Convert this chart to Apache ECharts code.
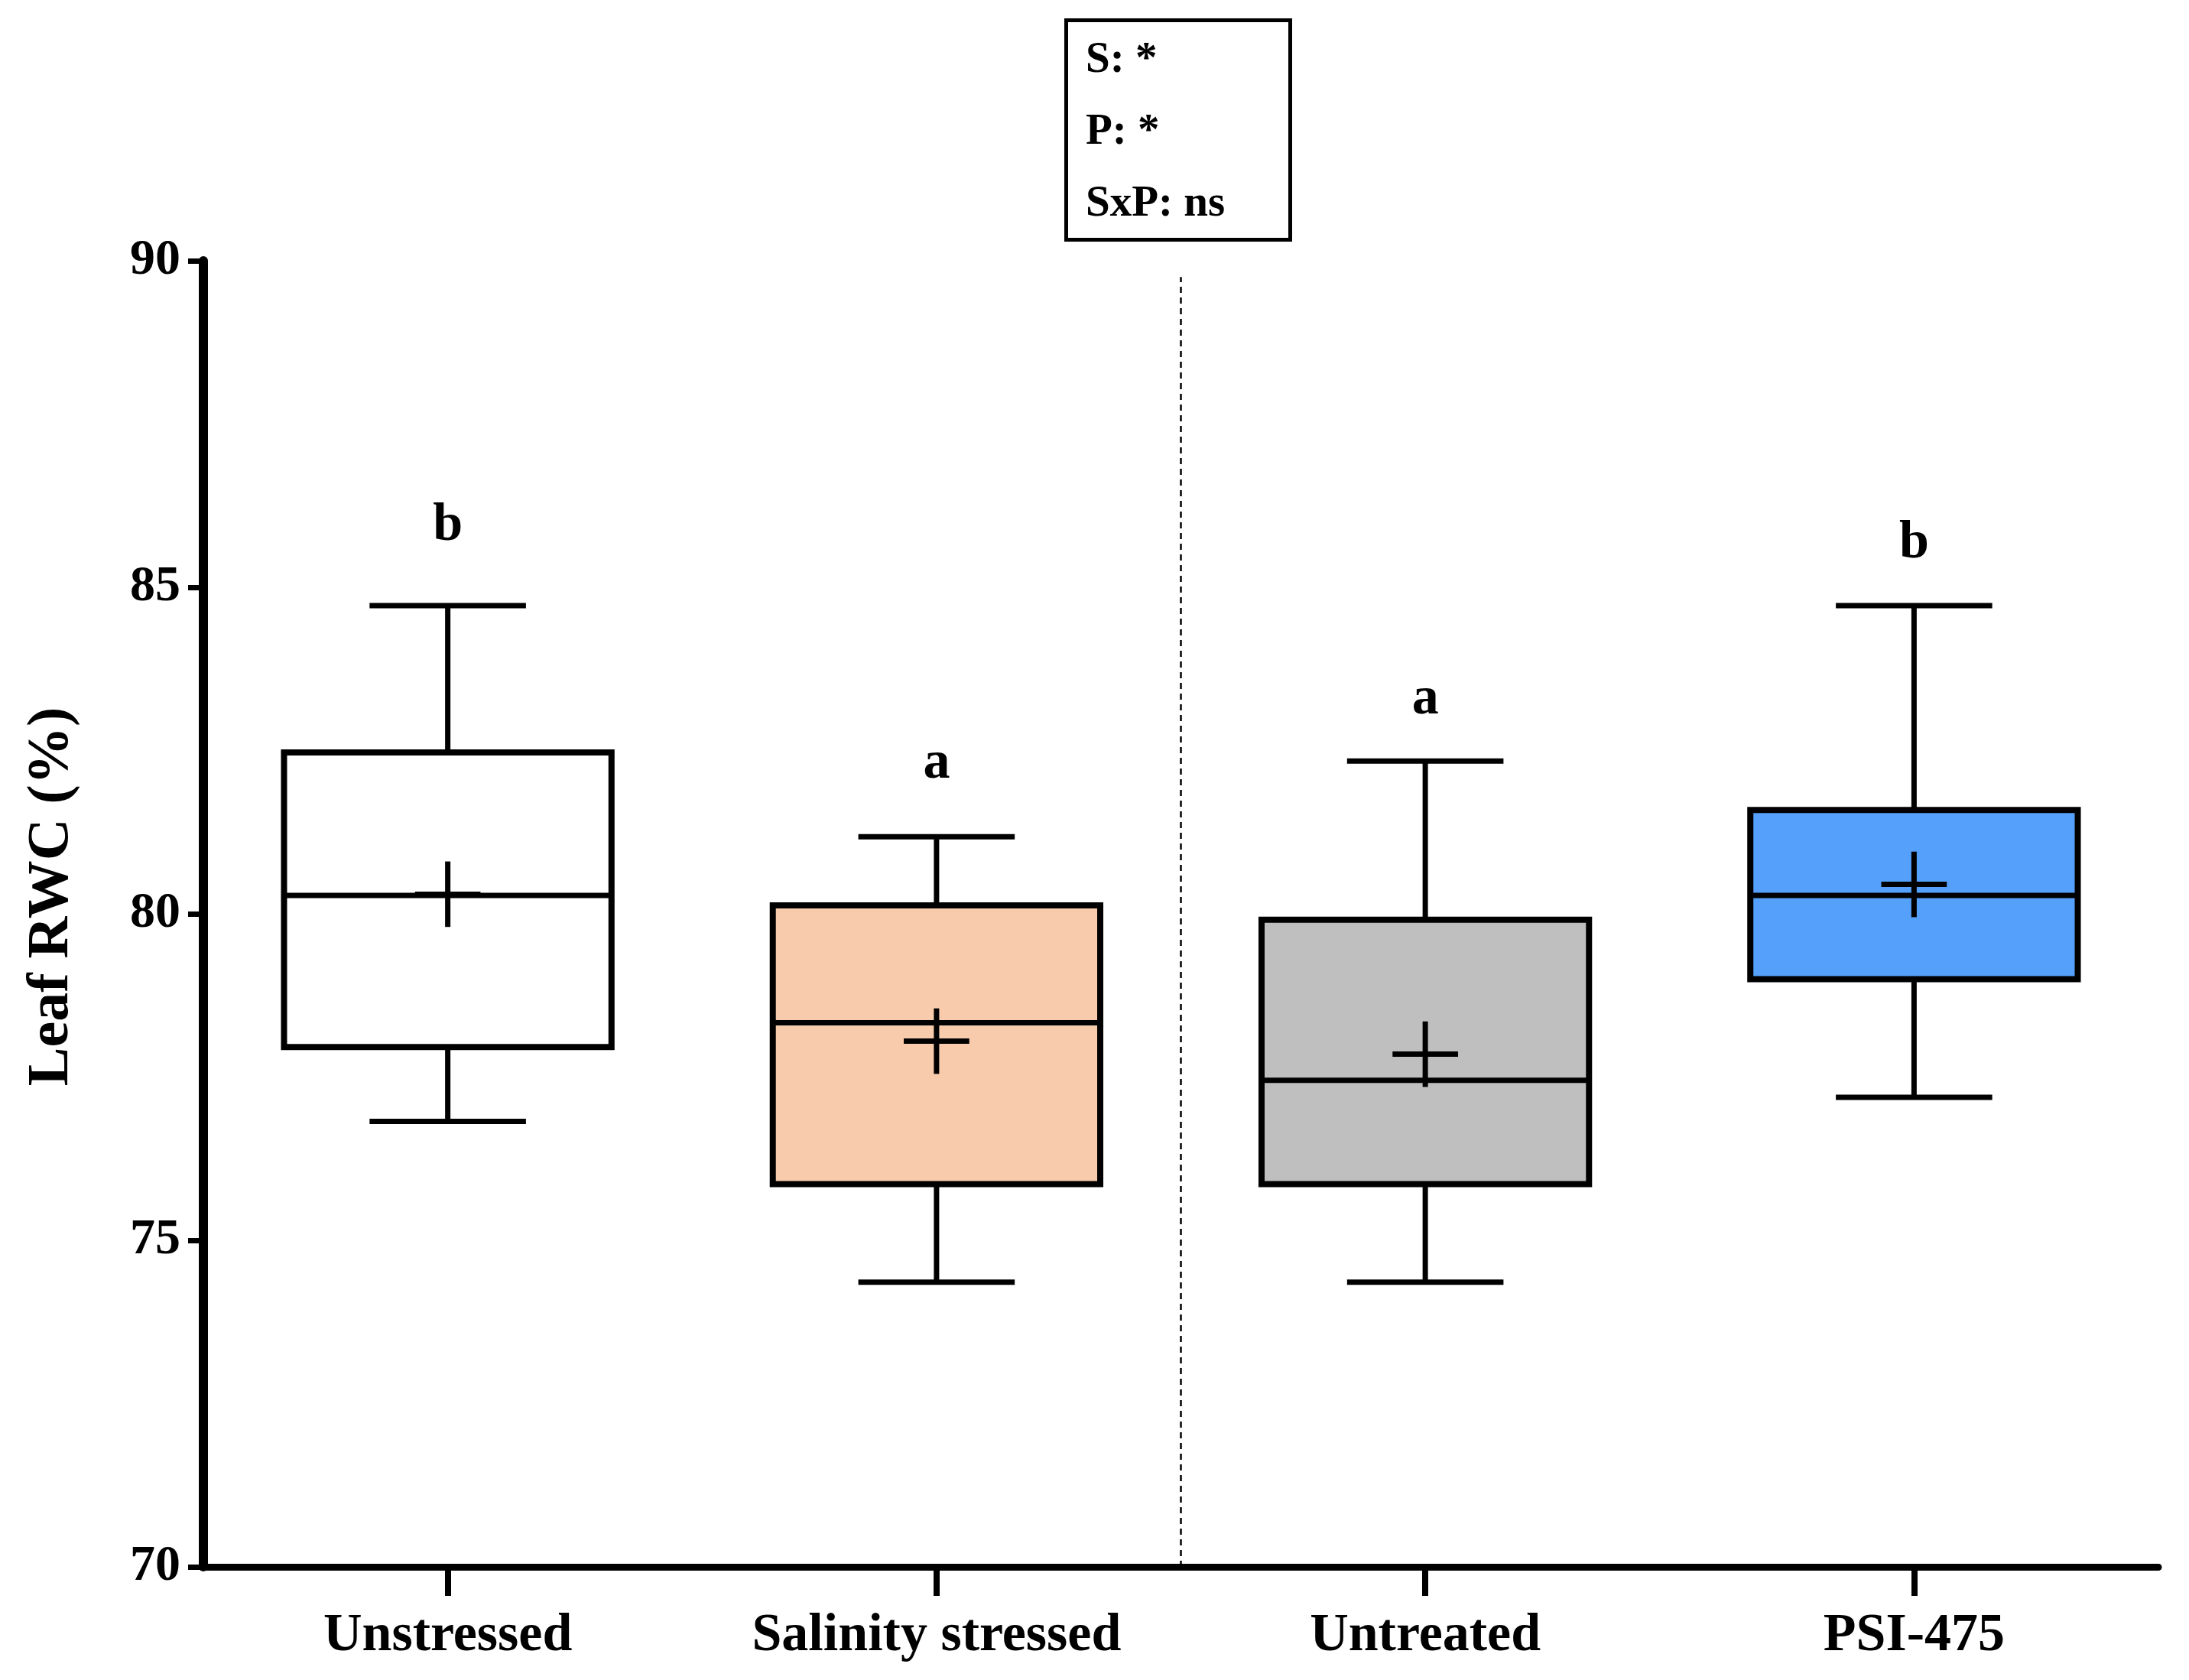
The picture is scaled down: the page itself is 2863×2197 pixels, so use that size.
<!DOCTYPE html>
<html>
<head>
<meta charset="utf-8">
<script src="https://cdn.jsdelivr.net/npm/echarts@6/dist/echarts.min.js"></script>
<style>
html,body{margin:0;padding:0;background:#fff;}
#chart{width:2863px;height:2197px;}
</style>
</head>
<body>
<div id="chart"></div>
<script>
// ---- data ----
const categories = ['Unstressed', 'Salinity stressed', 'Untreated', 'PSI-475'];
const whiskerMin = [76.82, 74.36, 74.36, 77.19];
const q1 = [77.96, 75.86, 75.86, 79.00];
const medians = [80.28, 78.33, 77.45, 80.28];
const q3 = [82.47, 80.13, 79.91, 81.59];
const whiskerMax = [84.72, 81.18, 82.34, 84.72];
const means = [80.30, 78.05, 77.85, 80.45];
const letters = ['b', 'a', 'a', 'b'];
const letterY = [85.94, 82.30, 83.28, 85.67];
const yTicks = [70, 75, 80, 85, 90];
const dividerX = 1.5;
const dividerTop = 89.75;
const statsText = ['S: *', 'P: *', 'SxP: ns'];
// ---- styles ----
const fillColors = ['#FFFFFF', '#F8CBAD', '#BFBFBF', '#55A0FB'];
const FONT = "'Liberation Serif', 'Times New Roman', serif";

const chart = echarts.init(document.getElementById('chart'));

const boxData = categories.map((c, i) => [i, whiskerMin[i], q1[i], medians[i], q3[i], whiskerMax[i], means[i], letterY[i]]);

function renderBox(params, api) {
  const i = api.value(0);
  const band = api.size([1, 0])[0];
  const bw = band * 0.67;
  const cw = band * 0.32;
  const pw = band * 0.134;
  const pMin = api.coord([i, api.value(1)]);
  const pQ1 = api.coord([i, api.value(2)]);
  const pMed = api.coord([i, api.value(3)]);
  const pQ3 = api.coord([i, api.value(4)]);
  const pMax = api.coord([i, api.value(5)]);
  const pMean = api.coord([i, api.value(6)]);
  const pLet = api.coord([i, api.value(7)]);
  const x = pMin[0];
  const ls = { stroke: '#000', lineWidth: 7 };
  return {
    type: 'group',
    children: [
      { type: 'line', shape: { x1: x, y1: pQ3[1], x2: x, y2: pMax[1] }, style: ls },
      { type: 'line', shape: { x1: x, y1: pQ1[1], x2: x, y2: pMin[1] }, style: ls },
      { type: 'line', shape: { x1: x - cw / 2, y1: pMax[1], x2: x + cw / 2, y2: pMax[1] }, style: ls },
      { type: 'line', shape: { x1: x - cw / 2, y1: pMin[1], x2: x + cw / 2, y2: pMin[1] }, style: ls },
      { type: 'rect', shape: { x: x - bw / 2, y: pQ3[1], width: bw, height: pQ1[1] - pQ3[1] },
        style: { fill: fillColors[i], stroke: '#000', lineWidth: 8 } },
      { type: 'line', shape: { x1: x - bw / 2, y1: pMed[1], x2: x + bw / 2, y2: pMed[1] }, style: ls },
      { type: 'line', shape: { x1: x - pw / 2, y1: pMean[1], x2: x + pw / 2, y2: pMean[1] }, style: ls },
      { type: 'line', shape: { x1: x, y1: pMean[1] - pw / 2, x2: x, y2: pMean[1] + pw / 2 }, style: ls },
      { type: 'text', x: x, y: pLet[1],
        style: { text: letters[i], fill: '#000', font: 'bold 70px ' + FONT, align: 'center', verticalAlign: 'middle' } }
    ]
  };
}

const option = {
  backgroundColor: '#fff',
  animation: false,
  title: {
    text: statsText.join('\n'),
    left: 1394,
    top: 26,
    borderColor: '#000',
    borderWidth: 5,
    padding: [6, 86, 0, 26],
    textStyle: { fontFamily: FONT, fontWeight: 'bold', fontSize: 57, lineHeight: 94, color: '#000' }
  },
  grid: { left: 266, right: 40, top: 341, bottom: 148 },
  xAxis: [
    {
      type: 'category',
      data: categories,
      axisLine: { show: true, onZero: false, lineStyle: { color: '#000', width: 9 } },
      axisTick: { show: true, alignWithLabel: true, length: 38, lineStyle: { color: '#000', width: 8 } },
      axisLabel: { color: '#000', fontFamily: FONT, fontWeight: 'bold', fontSize: 70, margin: 56 },
      splitLine: { show: false }
    },
    { type: 'value', min: -0.5, max: 3.5, show: false }
  ],
  yAxis: {
    type: 'value',
    min: yTicks[0],
    max: yTicks[yTicks.length - 1],
    interval: 5,
    name: 'Leaf RWC (%)',
    nameLocation: 'middle',
    nameGap: 160,
    nameTextStyle: { color: '#000', fontFamily: FONT, fontWeight: 'bold', fontSize: 76, padding: [0, 0, 0, 45] },
    axisLine: { show: true, onZero: false, lineStyle: { color: '#000', width: 12 } },
    axisTick: { show: true, length: 20, lineStyle: { color: '#000', width: 7 } },
    axisLabel: { color: '#000', fontFamily: FONT, fontWeight: 'bold', fontSize: 66, margin: 30 },
    splitLine: { show: false }
  },
  series: [
    {
      type: 'line',
      xAxisIndex: 1,
      data: [[dividerX, yTicks[0]], [dividerX, dividerTop]],
      symbol: 'none',
      lineStyle: { color: '#000', width: 2.5, type: [8, 6] },
      silent: true,
      z: 1
    },
    {
      type: 'custom',
      renderItem: renderBox,
      data: boxData,
      encode: { x: 0, y: [1, 2, 3, 4, 5] },
      z: 3
    }
  ]
};
chart.setOption(option);
</script>
</body>
</html>
